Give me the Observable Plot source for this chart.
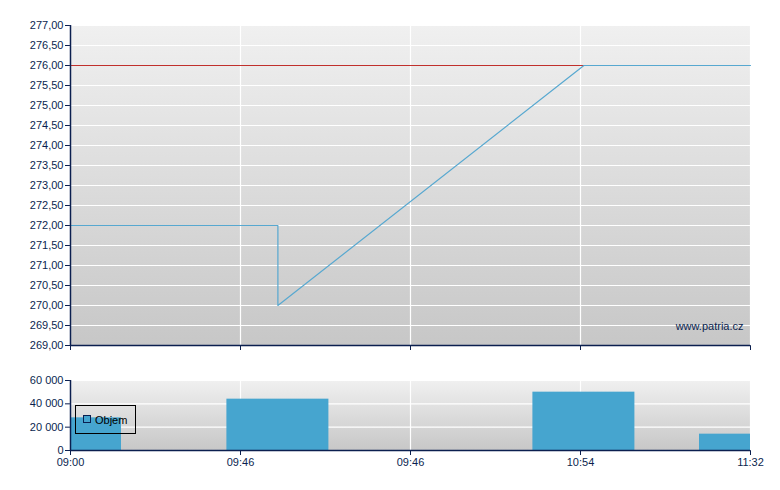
<!DOCTYPE html>
<html><head><meta charset="utf-8">
<script src="https://cdn.jsdelivr.net/npm/d3@7"></script>
<script src="https://cdn.jsdelivr.net/npm/@observablehq/plot@0.6"></script>
<style>
body{margin:0;background:#fff;font-family:"Liberation Sans",Arial,sans-serif;}
#wrap{position:relative;width:780px;height:490px;}
#wrap svg{display:block;}
#legend{position:absolute;left:75px;top:405px;width:61px;height:29px;border:1px solid #000;box-sizing:border-box;font-size:11px;color:#000;}
#legend .sw{position:absolute;left:7px;top:9px;width:8px;height:8px;background:#46a5cf;border:1px solid #0b1f4f;box-sizing:border-box;}
#legend .lb{position:absolute;left:19px;top:8px;}
</style>
</head><body>
<div id="wrap"></div>
<script>
const xTickPos = [0, 1, 2, 3, 4];
const xTickLabels = ["09:00", "09:46", "09:46", "10:54", "11:32"];
const priceX = [0, 1.22, 1.22, 3.02, 4.0];
const priceY = [272, 272, 270, 276, 276];
const refPrice = [276];
const priceTicks = [269, 269.5, 270, 270.5, 271, 271.5, 272, 272.5, 273, 273.5, 274, 274.5, 275, 275.5, 276, 276.5, 277];
const volX = [0, 1.22, 3.02, 4.0];
const volY = [28000, 44000, 50000, 14000];
const volTicks = [0, 20000, 40000, 60000];
const watermark = ["www.patria.cz"];

const navy = "#0b1f4f";
const lineColor = "#57a8d0";
const barColor = "#46a5cf";
const halfBar = 0.3;

const priceData = priceX.map((x, i) => ({x, y: priceY[i]}));
const volData = volX.map((x, i) => ({x, v: volY[i]}));

const fmtPrice = d => d.toFixed(2).replace(".", ",");
const fmtVol = d => d3.format(",")(d).replace(/,/g, " ");

function applyGradient(svg, id) {
  const ns = "http://www.w3.org/2000/svg";
  const defs = document.createElementNS(ns, "defs");
  defs.innerHTML = `<linearGradient id="${id}" x1="0" y1="0" x2="0" y2="1"><stop offset="0" stop-color="#f0f0f0"/><stop offset="1" stop-color="#c7c7c7"/></linearGradient>`;
  svg.insertBefore(defs, svg.firstChild);
  svg.querySelectorAll('rect[aria-label="frame"], g[aria-label="frame"] rect').forEach(r => r.setAttribute("fill", `url(#${id})`));
}

const common = {
  width: 780,
  marginLeft: 70,
  marginRight: 30,
  style: {fontFamily: '"Liberation Sans", Arial, sans-serif', fontSize: "11px", color: navy, background: "transparent", overflow: "visible"}
};

const priceChart = Plot.plot({
  ...common,
  height: 355,
  marginTop: 25,
  marginBottom: 10,
  x: {domain: [0, 4], ticks: xTickPos, tickFormat: () => "", tickSize: 5, label: null},
  y: {domain: [269, 277], ticks: priceTicks, tickFormat: fmtPrice, tickSize: 5, tickPadding: 2, label: null},
  marks: [
    Plot.frame({fill: "#dddddd", stroke: null}),
    Plot.ruleY(priceTicks, {stroke: "#ffffff", strokeWidth: 1.2}),
    Plot.ruleX(xTickPos, {stroke: "#ffffff", strokeWidth: 1.2}),
    Plot.ruleY(refPrice, {stroke: "#c0302c", strokeWidth: 1}),
    Plot.line(priceData, {x: "x", y: "y", stroke: lineColor, strokeWidth: 1.2}),
    Plot.text(watermark, {frameAnchor: "bottom-right", dx: -7, dy: -16, fill: navy, fontSize: 11}),
    Plot.ruleX([0], {stroke: navy, strokeWidth: 1.5}),
    Plot.ruleY([269], {stroke: navy, strokeWidth: 1.5})
  ]
});
applyGradient(priceChart, "gTop");

const volChart = Plot.plot({
  ...common,
  height: 135,
  marginTop: 25,
  marginBottom: 40,
  x: {domain: [0, 4], ticks: xTickPos, tickFormat: i => xTickLabels[i], tickSize: 5, tickPadding: 3, label: null},
  y: {domain: [0, 60000], ticks: volTicks, tickFormat: fmtVol, tickSize: 5, tickPadding: 2, label: null},
  marks: [
    Plot.frame({fill: "#dddddd", stroke: null}),
    Plot.ruleY(volTicks, {stroke: "#ffffff", strokeWidth: 1.2}),
    Plot.ruleX(xTickPos, {stroke: "#ffffff", strokeWidth: 1.2}),
    Plot.rect(volData, {x1: d => d.x - halfBar, x2: d => d.x + halfBar, y1: 0, y2: "v", fill: barColor, clip: true}),
    Plot.ruleX([0], {stroke: navy, strokeWidth: 1.5}),
    Plot.ruleY([0], {stroke: navy, strokeWidth: 1.5})
  ]
});
applyGradient(volChart, "gBot");

const wrap = document.getElementById("wrap");
wrap.appendChild(priceChart);
wrap.appendChild(volChart);
const legend = document.createElement("div");
legend.id = "legend";
legend.innerHTML = '<div class="sw"></div><div class="lb">Objem</div>';
wrap.appendChild(legend);
</script>
</body></html>
